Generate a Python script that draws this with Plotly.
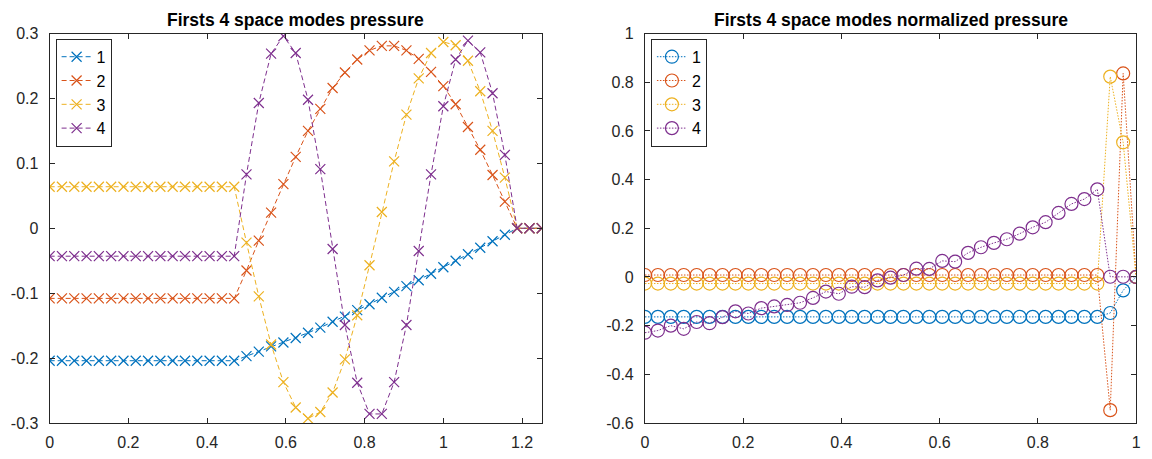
import numpy as np
import plotly.graph_objects as go

# ---- data -------------------------------------------------------------
mode_names = ["1", "2", "3", "4"]
mode_colors = ["#0072BD", "#D95319", "#EDB120", "#7E2F8E"]

# spatial grid of the pressure modes (41 nodes on [0, 1.25])
x_pressure = np.linspace(0.0, 1.25, 41)

p_mode1 = [-0.204, -0.204, -0.204, -0.204, -0.204, -0.204, -0.204, -0.204,
           -0.204, -0.204, -0.204, -0.204, -0.204, -0.204, -0.204, -0.204,
           -0.197, -0.190, -0.182, -0.176, -0.169, -0.161, -0.153, -0.144,
           -0.136, -0.126, -0.117, -0.107, -0.098, -0.089, -0.080, -0.070,
           -0.060, -0.050, -0.040, -0.030, -0.020, -0.010, 0.0, 0.0, 0.0]
p_mode2 = [-0.108, -0.108, -0.108, -0.108, -0.108, -0.108, -0.108, -0.108,
           -0.108, -0.108, -0.108, -0.108, -0.108, -0.108, -0.108, -0.108,
           -0.065, -0.019, 0.024, 0.068, 0.110, 0.150, 0.184, 0.216,
           0.240, 0.260, 0.274, 0.281, 0.281, 0.274, 0.261, 0.241,
           0.219, 0.191, 0.156, 0.121, 0.082, 0.041, 0.0, 0.0, 0.0]
p_mode3 = [0.064, 0.064, 0.064, 0.064, 0.064, 0.064, 0.064, 0.064,
           0.064, 0.064, 0.064, 0.064, 0.064, 0.064, 0.064, 0.064,
           -0.022, -0.105, -0.179, -0.237, -0.276, -0.293, -0.283, -0.253,
           -0.202, -0.134, -0.057, 0.025, 0.103, 0.175, 0.231, 0.270,
           0.287, 0.282, 0.258, 0.211, 0.150, 0.078, 0.0, 0.0, 0.0]
p_mode4 = [-0.043, -0.043, -0.043, -0.043, -0.043, -0.043, -0.043, -0.043,
           -0.043, -0.043, -0.043, -0.043, -0.043, -0.043, -0.043, -0.043,
           0.083, 0.193, 0.269, 0.296, 0.270, 0.198, 0.091, -0.032,
           -0.149, -0.238, -0.286, -0.286, -0.237, -0.149, -0.035, 0.083,
           0.188, 0.260, 0.289, 0.271, 0.208, 0.113, 0.0, 0.0, 0.0]

# normalized grid (39 nodes on [0, 1])
x_norm = np.linspace(0.0, 1.0, 39)

n_mode1 = [-0.164, -0.164, -0.164, -0.164, -0.164, -0.164, -0.164, -0.164,
           -0.164, -0.164, -0.164, -0.164, -0.164, -0.164, -0.164, -0.164,
           -0.164, -0.164, -0.164, -0.164, -0.164, -0.164, -0.164, -0.164,
           -0.164, -0.164, -0.164, -0.164, -0.164, -0.164, -0.164, -0.164,
           -0.164, -0.164, -0.164, -0.164, -0.148, -0.055, 0.0]
n_mode2 = [0.008, 0.008, 0.008, 0.008, 0.008, 0.008, 0.008, 0.008,
           0.008, 0.008, 0.008, 0.008, 0.008, 0.008, 0.008, 0.008,
           0.008, 0.008, 0.008, 0.008, 0.008, 0.008, 0.008, 0.008,
           0.008, 0.008, 0.008, 0.008, 0.008, 0.008, 0.008, 0.008,
           0.008, 0.008, 0.008, 0.008, -0.547, 0.836, 0.0]
n_mode3 = [-0.027, -0.027, -0.027, -0.027, -0.027, -0.027, -0.027, -0.027,
           -0.027, -0.027, -0.027, -0.027, -0.027, -0.027, -0.027, -0.027,
           -0.027, -0.027, -0.027, -0.027, -0.027, -0.027, -0.027, -0.027,
           -0.027, -0.027, -0.027, -0.027, -0.027, -0.027, -0.027, -0.027,
           -0.027, -0.027, -0.027, -0.027, 0.823, 0.553, 0.0]
n_mode4 = [-0.229, -0.220, -0.200, -0.213, -0.185, -0.190, -0.165, -0.141,
           -0.150, -0.128, -0.121, -0.115, -0.106, -0.086, -0.060, -0.069,
           -0.040, -0.042, -0.014, -0.003, 0.008, 0.034, 0.033, 0.066,
           0.063, 0.099, 0.122, 0.140, 0.155, 0.178, 0.204, 0.225,
           0.263, 0.300, 0.320, 0.360, 0.001, 0.001, 0.0]

# axis ticks
left_xticks = [0, 0.2, 0.4, 0.6, 0.8, 1.0, 1.2]
left_xlabels = ["0", "0.2", "0.4", "0.6", "0.8", "1", "1.2"]
left_yticks = [-0.3, -0.2, -0.1, 0, 0.1, 0.2, 0.3]
left_ylabels = ["-0.3", "-0.2", "-0.1", "0", "0.1", "0.2", "0.3"]
right_xticks = [0, 0.2, 0.4, 0.6, 0.8, 1.0]
right_xlabels = ["0", "0.2", "0.4", "0.6", "0.8", "1"]
right_yticks = [-0.6, -0.4, -0.2, 0, 0.2, 0.4, 0.6, 0.8, 1.0]
right_ylabels = ["-0.6", "-0.4", "-0.2", "0", "0.2", "0.4", "0.6", "0.8", "1"]

titles = ["Firsts 4 space modes pressure",
          "Firsts 4 space modes normalized pressure"]

# ---- figure -----------------------------------------------------------
W, H = 1152, 459
FONT = "Liberation Sans, Arial, Helvetica, sans-serif"
AX = "#262626"

fig = go.Figure()

for name, color, ys in zip(mode_names, mode_colors,
                           [p_mode1, p_mode2, p_mode3, p_mode4]):
    fig.add_trace(go.Scatter(
        x=x_pressure, y=ys, name=name, mode="lines+markers",
        line=dict(color=color, width=1, dash="5px,3px"),
        marker=dict(symbol="x-thin", size=10, color=color,
                    line=dict(color=color, width=1.2)),
        xaxis="x", yaxis="y", legend="legend", cliponaxis=True,
    ))

for name, color, ys in zip(mode_names, mode_colors,
                           [n_mode1, n_mode2, n_mode3, n_mode4]):
    fig.add_trace(go.Scatter(
        x=x_norm, y=ys, name=name, mode="lines+markers",
        line=dict(color=color, width=1, dash="1.5px,1.5px"),
        marker=dict(symbol="circle-open", size=13, color=color,
                    line=dict(color=color, width=1.2)),
        xaxis="x2", yaxis="y2", legend="legend2", cliponaxis=True,
    ))

ydom = [1 - 431 / H, 1 - 26.5 / H]
dom_left = [46 / W, 542 / W]
dom_right = [646 / W, 1141 / W]


def axis(rng, ticks, labels, dom, anchor, standoff):
    return dict(
        range=rng, domain=dom, anchor=anchor,
        tickmode="array", tickvals=ticks, ticktext=labels,
        showgrid=False, zeroline=False,
        showline=True, linecolor=AX, linewidth=1, mirror="ticks",
        ticks="inside", ticklen=5, tickwidth=1, tickcolor=AX,
        ticklabelstandoff=standoff,
        tickfont=dict(family=FONT, size=16, color=AX),
    )


legend_style = dict(
    bgcolor="white", bordercolor=AX, borderwidth=1,
    font=dict(family=FONT, size=16, color="black"),
    xanchor="left", yanchor="top", itemwidth=30,
    tracegroupgap=0, itemsizing="trace",
)

fig.update_layout(
    width=W, height=H,
    margin=dict(l=0, r=0, t=0, b=0),
    paper_bgcolor="white", plot_bgcolor="white",
    showlegend=True,
    xaxis=axis([0, 1.25], left_xticks, left_xlabels, dom_left, "y", 5),
    yaxis=axis([-0.3, 0.3], left_yticks, left_ylabels, ydom, "x", 7),
    xaxis2=axis([0, 1], right_xticks, right_xlabels, dom_right, "y2", 5),
    yaxis2=axis([-0.6, 1], right_yticks, right_ylabels, ydom, "x2", 7),
    legend=dict(x=52 / W, y=1 - 32 / H, **legend_style),
    legend2=dict(x=652 / W, y=1 - 32 / H, **legend_style),
)

for title, dom in zip(titles, [dom_left, dom_right]):
    fig.add_annotation(
        text=f"<b>{title}</b>", xref="paper", yref="paper",
        x=(dom[0] + dom[1]) / 2, y=1 - 12 / H,
        xanchor="center", yanchor="middle", showarrow=False,
        font=dict(family=FONT, size=17.5, color="black"),
    )

fig.write_html("out.html")
